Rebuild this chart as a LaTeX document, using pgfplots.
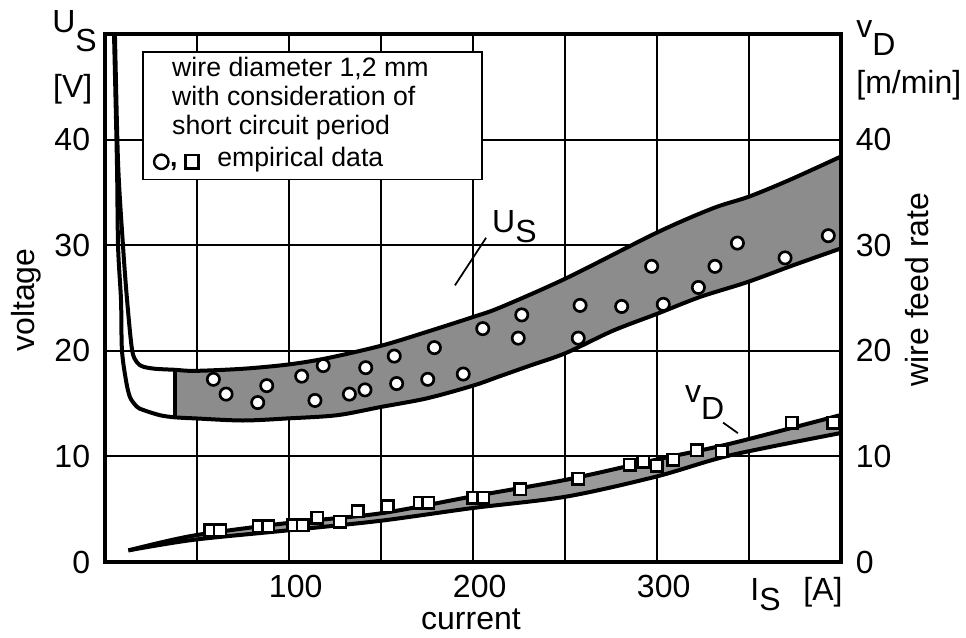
\documentclass[border=0pt]{standalone}
\usepackage{fontspec}
\setmainfont{Liberation Sans}
\usepackage{pgfplots}
\pgfplotsset{compat=1.18}
\usepgfplotslibrary{fillbetween}

\newcommand\lblfont{\fontsize{24}{26}\selectfont}
\newcommand\legfont{\fontsize{20}{22}\selectfont}

\begin{document}
\begin{tikzpicture}
\begin{axis}[
    set layers,
    scale only axis,
    width=552pt, height=396pt,
    xmin=0, xmax=400, ymin=0, ymax=50,
    xtick={0,50,...,400}, xticklabels={,,100,,200,,300,,},
    ytick={0,10,...,50}, yticklabels={0,10,20,30,40,},
    major tick length=0pt,
    grid=major, grid style={black, line width=1.4pt},
    axis line style={line width=2.8pt},
    tick label style={font=\lblfont, inner sep=0pt},
    xticklabel style={yshift=-10pt, xshift=5pt},
    yticklabel style={xshift=-11pt},
    /pgf/number format/assume math mode=true,
    clip mode=individual,
]

% arc voltage, upper and lower limit
\addplot[name path=uu, line width=3pt, smooth] coordinates {
    (5.4,50) (7.1,37.8) (9.8,29.9) (12.0,24.8) (14.7,20.1) (17.4,18.9)
    (20.7,18.5) (27.2,18.3) (38,18.2) (48.9,18.1) (75,18.3) (99.5,18.7)
    (120.7,19.3) (150.5,20.5) (175,21.8) (200,23.2) (214.7,24.1) (251,26.9)
    (300,31.2) (330.4,33.5) (350,34.6) (372.3,36.2) (400,38.4)};
\addplot[name path=ul, line width=3pt, smooth] coordinates {
    (4.9,50) (6.5,37.8) (7.1,29.9) (8.7,24.8) (9.2,20.1) (11.4,17.2)
    (13.6,15.6) (17.4,14.7) (20.7,14.4) (29.9,13.9) (38,13.7) (48.9,13.6)
    (75,13.4) (99.5,13.6) (126.1,13.9) (150.5,14.7) (175,15.5) (200,16.7)
    (214.7,17.6) (231,18.6) (250.6,19.8) (276,21.9) (300,23.5) (323.4,25.1)
    (349,26.5) (374,28.1) (400,29.7)};
\addplot[black!45] fill between[of=uu and ul, soft clip={domain=38:400}];
\addplot[line width=3pt] coordinates {(38,13.7) (38,18.2)};

% wire feed rate, upper and lower limit
\addplot[name path=vu, line width=3pt, smooth] coordinates {
    (12.7,1.1) (48,2.5) (99.6,3.7) (149.5,4.6) (199.3,6.2) (250.9,7.8)
    (299.8,9.7) (339.7,11.2) (399.5,13.9)};
\addplot[name path=vl, line width=3pt, smooth] coordinates {
    (12.7,1.1) (48,2.1) (99.6,3.0) (149.5,3.9) (199.3,5.1) (250.9,6.2)
    (299.8,8.1) (339.7,10.1) (399.5,12.2)};
\addplot[black!40] fill between[of=vu and vl];

% empirical data, voltage
\addplot[only marks, mark=*, mark size=4.6pt,
    mark options={fill=white, draw=black, line width=2pt}] coordinates {
    (58.9,17.3) (65.8,15.9) (87.9,16.7) (83.0,15.1) (106.9,17.6) (118.6,18.6)
    (114.1,15.3) (141.7,18.4) (132.8,15.9) (141.3,16.3) (157.2,19.5) (158.5,16.9)
    (179.0,20.3) (175.4,17.3) (194.7,17.8) (205.3,22.1) (226.5,23.4) (224.6,21.2)
    (258.2,24.3) (257.2,21.2) (280.8,24.2) (303.4,24.4) (297.1,28.0) (322.5,26.0)
    (331.5,28.0) (343.7,30.2) (369.6,28.8) (393.1,30.9)};

% empirical data, wire feed rate
\addplot[only marks, mark=square*, mark size=4.3pt,
    mark options={fill=white, draw=black, line width=1.8pt}] coordinates {
    (57.1,3.0) (62.5,3.0) (83.7,3.4) (88.8,3.4) (102.3,3.5) (107.5,3.5)
    (115.4,4.2) (127.7,3.8) (137.3,4.8) (153.6,5.3) (171.2,5.6) (175.7,5.6)
    (200.2,6.1) (205.6,6.1) (225.6,6.9) (257.2,7.9) (285.3,9.2) (292.6,9.5)
    (299.8,9.1) (308.9,9.7) (321.6,10.6) (335.2,10.5) (373.2,13.2) (395.8,13.2)};

% curve labels
\draw[line width=1.3pt] (axis cs:190.2,26.2) -- (axis cs:207.1,30.7);
\node[anchor=base west, inner sep=0pt, font=\lblfont] at (axis cs:210.3,31.25) {U\raisebox{-7.5pt}{S}};
\draw[line width=1.3pt] (axis cs:335.9,13.2) -- (axis cs:344,12.2);
\node[anchor=base west, inner sep=0pt, font=\lblfont] at (axis cs:315.2,15.06) {v\raisebox{-12.5pt}{D}};

% info box
\draw[fill=white, line width=0.9pt] (axis cs:20.7,36.2) rectangle (axis cs:204.9,48.3);
\node[anchor=base west, inner sep=0pt, font=\legfont] at (axis cs:36.4,45.93) {wire diameter 1,2 mm};
\node[anchor=base west, inner sep=0pt, font=\legfont] at (axis cs:36.4,43.19) {with consideration of};
\node[anchor=base west, inner sep=0pt, font=\legfont] at (axis cs:36.4,40.44) {short circuit period};
\node[inner sep=0pt] at (axis cs:30.6,37.9) {\tikz\draw[line width=1.8pt] (0,0) circle (5.4pt);};
\node[anchor=base west, inner sep=0pt, font=\legfont\bfseries] at (axis cs:35.2,37.5) {,};
\node[inner sep=0pt] at (axis cs:47.3,37.9) {\tikz\draw[line width=1.8pt] (0,0) rectangle (10pt,10pt);};
\node[anchor=base west, inner sep=0pt, font=\legfont] at (axis cs:60.9,37.5) {empirical data};

% axis descriptions
\node[anchor=base west, inner sep=0pt, font=\lblfont] at (axis cs:-28.8,50.1) {U\raisebox{-14pt}{S}};
\node[anchor=base west, inner sep=0pt, font=\lblfont] at (axis cs:-28.3,44.0) {[V]};
\node[anchor=base west, inner sep=0pt, font=\lblfont] at (axis cs:408.2,49.7) {v\raisebox{-13.5pt}{D}};
\node[anchor=base west, inner sep=0pt, font=\lblfont] at (axis cs:408.2,44.4) {[m/min]};
\node[anchor=base west, inner sep=0pt, font=\lblfont] at (axis cs:350.6,-3.6) {I\raisebox{-7.5pt}{S}};
\node[anchor=base west, inner sep=0pt, font=\lblfont] at (axis cs:379.4,-3.6) {[A]};
\node[anchor=base, inner sep=0pt, font=\lblfont] at (axis cs:198.9,-6.4) {current};
\node[rotate=90, inner sep=0pt, font=\lblfont] at (axis cs:-42.9,24.8) {voltage};
\node[rotate=90, inner sep=0pt, font=\lblfont] at (axis cs:441.5,25.8) {wire feed rate};
\end{axis}

% right-hand scale
\begin{axis}[
    scale only axis,
    width=552pt, height=396pt,
    xmin=0, xmax=400, ymin=0, ymax=50,
    hide x axis,
    axis y line*=right,
    ytick={0,10,...,40},
    major tick length=0pt,
    axis line style={line width=2.8pt},
    yticklabel style={font=\lblfont, inner sep=0pt, xshift=11pt},
    /pgf/number format/assume math mode=true,
]
\end{axis}

\pgfresetboundingbox
\path (-78.75pt,-56.25pt) rectangle ++(724.5pt,477.75pt);
\end{tikzpicture}
\end{document}
